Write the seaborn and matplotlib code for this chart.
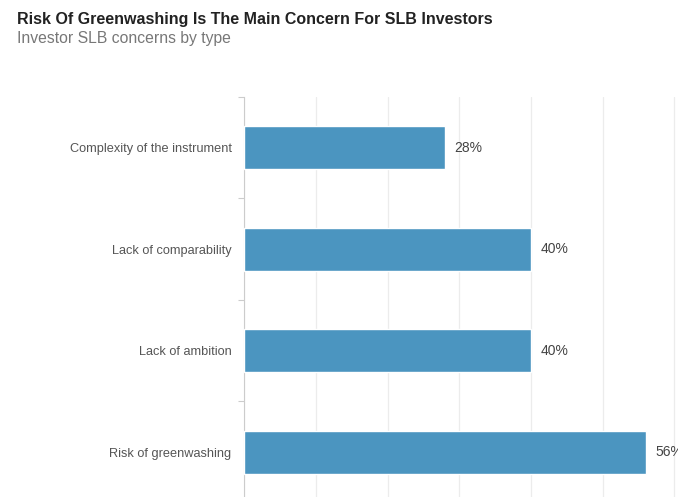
import matplotlib
matplotlib.use("Agg")
import matplotlib.pyplot as plt
import seaborn as sns
import pandas as pd

categories = ["Complexity of the instrument", "Lack of comparability",
              "Lack of ambition", "Risk of greenwashing"]
shares = [28, 40, 40, 56]
value_labels = ["28%", "40%", "40%", "56%"]

title = "Risk Of Greenwashing Is The Main Concern For SLB Investors"
subtitle = "Investor SLB concerns by type"

df = pd.DataFrame({"concern": categories, "share": shares})

sns.set_theme(style="white")
plt.rcParams["font.family"] = ["Liberation Sans", "DejaVu Sans"]

fig = plt.figure(figsize=(6.78, 4.97), dpi=100)
ax = fig.add_axes([0.36, -0.012, 0.64, 0.817])

sns.barplot(data=df, y="concern", x="share", color="#4B95C0",
            width=0.42, saturation=1, ax=ax, zorder=3)

ax.set_xlim(0, 60.5)
ax.set_ylim(3.5, -0.5)
ax.set_xticks([0, 10, 20, 30, 40, 50, 60])
ax.xaxis.grid(True, color="#ececec", linewidth=0.9, zorder=0)
ax.tick_params(axis="x", bottom=False, labelbottom=False)
ax.set_xlabel("")
ax.set_ylabel("")

ax.set_yticks(range(len(categories)))
ax.set_yticklabels(categories, fontsize=9.2, color="#555555")
ax.tick_params(axis="y", length=0, pad=9)
ax.set_yticks([i - 0.5 for i in range(len(categories) + 1)], minor=True)
ax.tick_params(axis="y", which="minor", length=4, color="#cccccc", width=0.8, left=True)

for side in ["top", "right", "bottom"]:
    ax.spines[side].set_visible(False)
ax.spines["left"].set_color("#cccccc")
ax.spines["left"].set_linewidth(0.8)

for i, (v, lab) in enumerate(zip(shares, value_labels)):
    ax.text(v + 1.3, i, lab, va="center", ha="left", fontsize=10,
            color="#444444", zorder=4)

fig.text(0.025, 0.975, title, fontsize=11.5, fontweight="bold",
         color="#222222", va="top", ha="left")
fig.text(0.025, 0.938, subtitle, fontsize=11.3, color="#777777",
         va="top", ha="left")

fig.savefig("out.png", dpi=100)
